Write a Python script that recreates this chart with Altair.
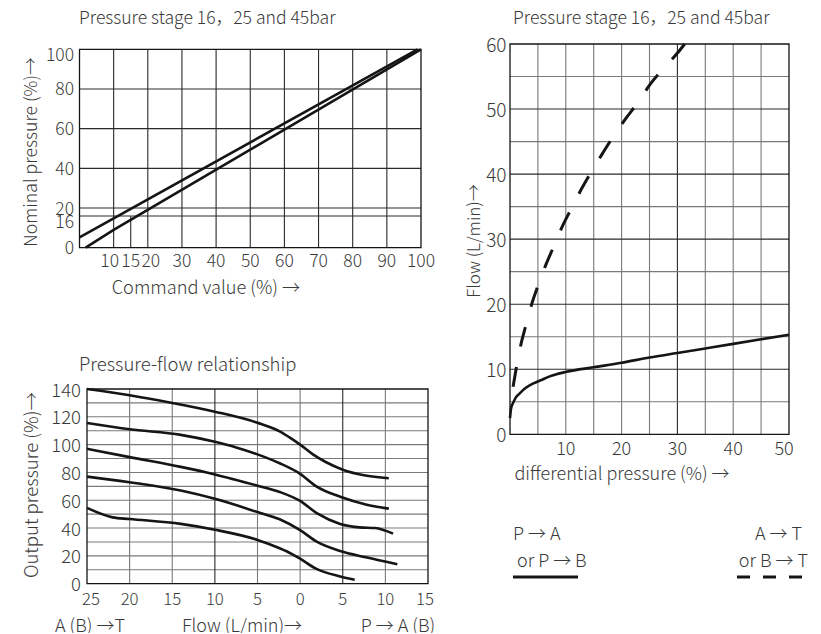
import altair as alt
import pandas as pd

FONT = "Noto Sans CJK SC"
TXT = "#3a3a3a"
INK = "#151515"
DARK = "#2a2a2a"
GREY = "#7a7a7a"
TY = 1.5  # small baseline correction for text

# ---------------- top-left panel ----------------
tl_title = "Pressure stage 16，25 and 45bar"
tl_xticks = [30, 40, 50, 60, 70, 80, 90, 100]
tl_xticks_crowded = [10, 15, 20]
tl_yticks = [0, 20, 40, 60, 80]
tl_vgrid = [10, 20, 30, 40, 50, 60, 70, 80, 90]
tl_hgrid = [16, 20, 40, 60, 80]
tl_short_x = [15]
tl_upper_x = [0, 99]
tl_upper_y = [5.2, 100]
tl_lower_x = [1.8, 10, 100]
tl_lower_y = [0, 9, 100]

# ---------------- bottom-left panel ----------------
bl_title = "Pressure-flow relationship"
bl_xticks = [-25, -20, -15, -10, -5, 0, 5, 10, 15]
bl_xlabels = ["25", "20", "15", "10", "5", "0", "5", "10", "15"]
bl_yticks = [0, 20, 40, 60, 80, 100, 120, 140]
bl_hgrid = [10, 20, 30, 40, 50, 60, 70, 80, 90, 100, 110, 120, 130]
bl_vgrid_dark = [-10, 5]
bl_vgrid_grey = [-20, -15, -5, 0, 10]
c1_x = [-25, -20, -15, -10, -5, -2.4, -1.2, 0, 1.5, 3, 5, 7.5, 10.4]
c1_y = [140, 135.5, 130, 123.7, 115.7, 109.5, 105, 100, 93, 87.5, 82, 78, 75.8]
c2_x = [-25, -20, -14, -10, -7.5, -5, -2.4, 0, 1.9, 4.7, 7.7, 10.4]
c2_y = [115.5, 111, 107, 102, 98, 93, 86.6, 79, 70, 62.5, 57, 54]
c3_x = [-25, -20, -14, -10, -5, -2.4, 0, 2, 4.7, 7, 8.8, 10.9]
c3_y = [97, 91, 84, 78.6, 70.5, 66, 59.5, 50.5, 43, 40.5, 40, 36]
c4_x = [-25, -20, -14, -10, -5, -2.4, 0, 2, 4.7, 7.7, 11.4]
c4_y = [77, 73, 67, 61, 51.5, 46.3, 38.5, 30, 23.5, 19, 14]
c5_x = [-25, -22, -20, -14, -10, -5, -2.4, -1, 0, 1.8, 4.7, 6.4]
c5_y = [54.5, 47.7, 46.5, 43, 38.8, 31.5, 25.5, 21.5, 18, 11, 5.2, 2.8]

# ---------------- right panel ----------------
r_title = "Pressure stage 16，25 and 45bar"
r_xticks = [10, 20, 30, 40, 50]
r_yticks = [0, 10, 20, 30, 40, 50, 60]
r_vgrid_grey = [5, 10, 15, 20, 25, 35, 40, 45]
r_vgrid_dark = [30]
r_hgrid_dark = [10, 20, 30, 40, 50]
r_hgrid_grey = [5, 15, 25, 35, 45, 55]
solid_x = [0, 0.2, 0.55, 1.0, 1.75, 2.6, 4.1, 5.5, 7.1, 10.1, 15, 20, 25, 30, 35, 40, 45, 50]
solid_y = [2.5, 4.0, 4.8, 5.6, 6.3, 7.0, 7.8, 8.3, 8.9, 9.6, 10.3, 11.0, 11.8, 12.5, 13.2, 13.9, 14.6, 15.3]
dash_x = [0.55, 1.15, 1.9, 2.8, 3.85, 5.0, 6.4, 7.8, 9.4, 11.0, 12.8, 14.6, 16.6, 18.6, 20.8, 23.0, 25.2, 27.6, 30.2, 31.3]
dash_y = [7.3, 10.3, 13.6, 16.6, 19.9, 22.8, 26.0, 28.8, 32.0, 34.7, 37.7, 40.4, 43.2, 45.9, 48.6, 51.1, 53.9, 56.3, 58.8, 60.0]


def sc(domain, rng):
    return alt.Scale(domain=domain, range=rng, nice=False, zero=False)


TLX = sc([0, 100], [71.5, 413])
TLY = sc([0, 100], [239.7, 41.3])
BLX = sc([-25, 15], [79, 420])
BLY = sc([0, 140], [575.7, 381])
RX = sc([0, 50], [502, 781])
RY = sc([0, 60], [426.3, 36])


def X(f, s):
    return alt.X(f, type="quantitative", scale=s, axis=None)


def Y(f, s):
    return alt.Y(f, type="quantitative", scale=s, axis=None)


def vrules(vals, xs, ys, lo, hi, color, width=1.1):
    df = pd.DataFrame({"v": vals, "a": [lo] * len(vals), "b": [hi] * len(vals)})
    return alt.Chart(df).mark_rule(color=color, strokeWidth=width).encode(
        x=X("v", xs), y=Y("a", ys), y2=alt.Y2("b"))


def hrules(vals, xs, ys, lo, hi, color, width=1.1):
    df = pd.DataFrame({"v": vals, "a": [lo] * len(vals), "b": [hi] * len(vals)})
    return alt.Chart(df).mark_rule(color=color, strokeWidth=width).encode(
        y=Y("v", ys), x=X("a", xs), x2=alt.X2("b"))


def frame(xs, ys, xd, yd):
    df = pd.DataFrame({"x0": [xd[0]], "x1": [xd[1]], "y0": [yd[0]], "y1": [yd[1]]})
    return alt.Chart(df).mark_rect(fillOpacity=0, stroke=INK, strokeWidth=1.3).encode(
        x=X("x0", xs), x2=alt.X2("x1"), y=Y("y0", ys), y2=alt.Y2("y1"))


def curve(xl, yl, xs, ys, width=2.6, dash=None, interp="monotone"):
    df = pd.DataFrame({"x": xl, "y": yl})
    kw = dict(color=INK, strokeWidth=width, interpolate=interp)
    if dash:
        kw["strokeDash"] = dash
    return alt.Chart(df).mark_line(**kw).encode(x=X("x", xs), y=Y("y", ys))


def ylabels(vals, texts, ys, xpix, size=17.5, dy=0):
    df = pd.DataFrame({"v": vals, "t": texts})
    return alt.Chart(df).mark_text(align="right", baseline="middle", font=FONT, fontWeight=300,
                                   fontSize=size, color=TXT, dy=dy + TY).encode(
        x=alt.value(xpix), y=Y("v", ys), text="t:N")


def xlabels(vals, texts, xs, ypix, size=17.5, dx=0):
    df = pd.DataFrame({"v": vals, "t": texts})
    return alt.Chart(df).mark_text(align="center", baseline="middle", font=FONT, fontWeight=300,
                                   fontSize=size, color=TXT, dx=dx).encode(
        y=alt.value(ypix + TY), x=X("v", xs), text="t:N")


def label(text, x, y, align="left", angle=0, size=18):
    df = pd.DataFrame({"t": [text]})
    kw = dict(align=align, baseline="middle", font=FONT, fontWeight=300, fontSize=size, color=TXT)
    if angle:
        kw["angle"] = angle
        x = x + TY
    else:
        y = y + TY
    return alt.Chart(df).mark_text(**kw).encode(x=alt.value(x), y=alt.value(y), text="t:N")


def strs(vals):
    return [str(v) for v in vals]


layers = []

# top-left
layers += [
    vrules(tl_vgrid, TLX, TLY, 0, 100, DARK),
    vrules(tl_short_x, TLX, TLY, 0, 16, DARK),
    hrules(tl_hgrid, TLX, TLY, 0, 100, DARK),
    frame(TLX, TLY, [0, 100], [0, 100]),
    curve(tl_upper_x, tl_upper_y, TLX, TLY, interp="linear"),
    curve(tl_lower_x, tl_lower_y, TLX, TLY, interp="linear"),
    ylabels(tl_yticks, strs(tl_yticks), TLY, 66),
    ylabels([16], ["16"], TLY, 66, dy=6),
    ylabels([100], ["100"], TLY, 66, dy=5),
    xlabels(tl_xticks, strs(tl_xticks), TLX, 252),
    xlabels(tl_xticks_crowded[:1], strs(tl_xticks_crowded[:1]), TLX, 252, dx=-4),
    xlabels(tl_xticks_crowded[1:2], strs(tl_xticks_crowded[1:2]), TLX, 252),
    xlabels(tl_xticks_crowded[2:], strs(tl_xticks_crowded[2:]), TLX, 252, dx=3),
    label(tl_title, 71, 9, size=17.6),
    label("Nominal pressure (%)→", 22, 144, align="center", angle=270, size=17.7),
    label("Command value (%) →", 198, 279, align="center", size=18.2),
]

# bottom-left
bl_df = pd.DataFrame({
    "x": c1_x + c2_x + c3_x + c4_x + c5_x,
    "y": c1_y + c2_y + c3_y + c4_y + c5_y,
    "c": ["1"] * len(c1_x) + ["2"] * len(c2_x) + ["3"] * len(c3_x) + ["4"] * len(c4_x) + ["5"] * len(c5_x),
})
layers += [
    hrules(bl_hgrid, BLX, BLY, -25, 15, GREY),
    vrules(bl_vgrid_grey, BLX, BLY, 0, 140, GREY),
    vrules(bl_vgrid_dark, BLX, BLY, 0, 140, DARK),
    frame(BLX, BLY, [-25, 15], [0, 140]),
    alt.Chart(bl_df).mark_line(color=INK, strokeWidth=2.6, interpolate="monotone").encode(
        x=X("x", BLX), y=Y("y", BLY), detail="c:N"),
    ylabels(bl_yticks, strs(bl_yticks), BLY, 73, size=18.5),
    xlabels(bl_xticks[:1], bl_xlabels[:1], BLX, 590, size=16.8, dx=4),
    xlabels(bl_xticks[1:-1], bl_xlabels[1:-1], BLX, 590, size=16.8),
    xlabels(bl_xticks[-1:], bl_xlabels[-1:], BLX, 590, size=16.8, dx=-3),
    label(bl_title, 71, 355, size=18.5),
    label("Output pressure (%)→", 22, 477, align="center", angle=270, size=18.5),
    label("A (B) →T", 82, 617, align="center"),
    label("Flow (L/min)→", 234, 617, align="center"),
    label("P → A (B)", 390, 617, align="center"),
]

# right
layers += [
    vrules(r_vgrid_grey, RX, RY, 0, 60, GREY),
    vrules(r_vgrid_dark, RX, RY, 0, 60, DARK),
    hrules(r_hgrid_grey, RX, RY, 0, 50, GREY),
    hrules(r_hgrid_dark, RX, RY, 0, 50, DARK),
    frame(RX, RY, [0, 50], [0, 60]),
    curve(solid_x, solid_y, RX, RY),
    curve(dash_x, dash_y, RX, RY, width=3, dash=[20, 21]),
    ylabels(r_yticks, strs(r_yticks), RY, 498.5, size=19),
    xlabels(r_xticks[:-1], strs(r_xticks[:-1]), RX, 440, size=18),
    xlabels(r_xticks[-1:], strs(r_xticks[-1:]), RX, 440, size=18, dx=-5),
    label(r_title, 505, 9, size=17.6),
    label("Flow (L/min)→", 465, 233, align="center", angle=270, size=17),
    label("differential pressure (%) →", 614, 465, align="center", size=18),
]

# legend
leg = pd.DataFrame({"k": [0]})
layers += [
    label("P → A", 505, 525),
    label("or P → B", 509, 552),
    label("A → T", 794, 525, align="right"),
    label("or B → T", 800, 552, align="right"),
    alt.Chart(leg).mark_rule(color=INK, strokeWidth=3).encode(
        x=alt.value(505), x2=alt.value(570), y=alt.value(569)),
    alt.Chart(leg).mark_rule(color=INK, strokeWidth=3, strokeDash=[13, 13]).encode(
        x=alt.value(729), x2=alt.value(795), y=alt.value(569)),
]

chart = alt.layer(*layers).resolve_scale(x="independent", y="independent").properties(
    width=805, height=625, padding=0,
    autosize=alt.AutoSizeParams(type="none"),
).configure_view(stroke="transparent")

chart.save("out.html", embed_options={"renderer": "svg", "actions": False})
